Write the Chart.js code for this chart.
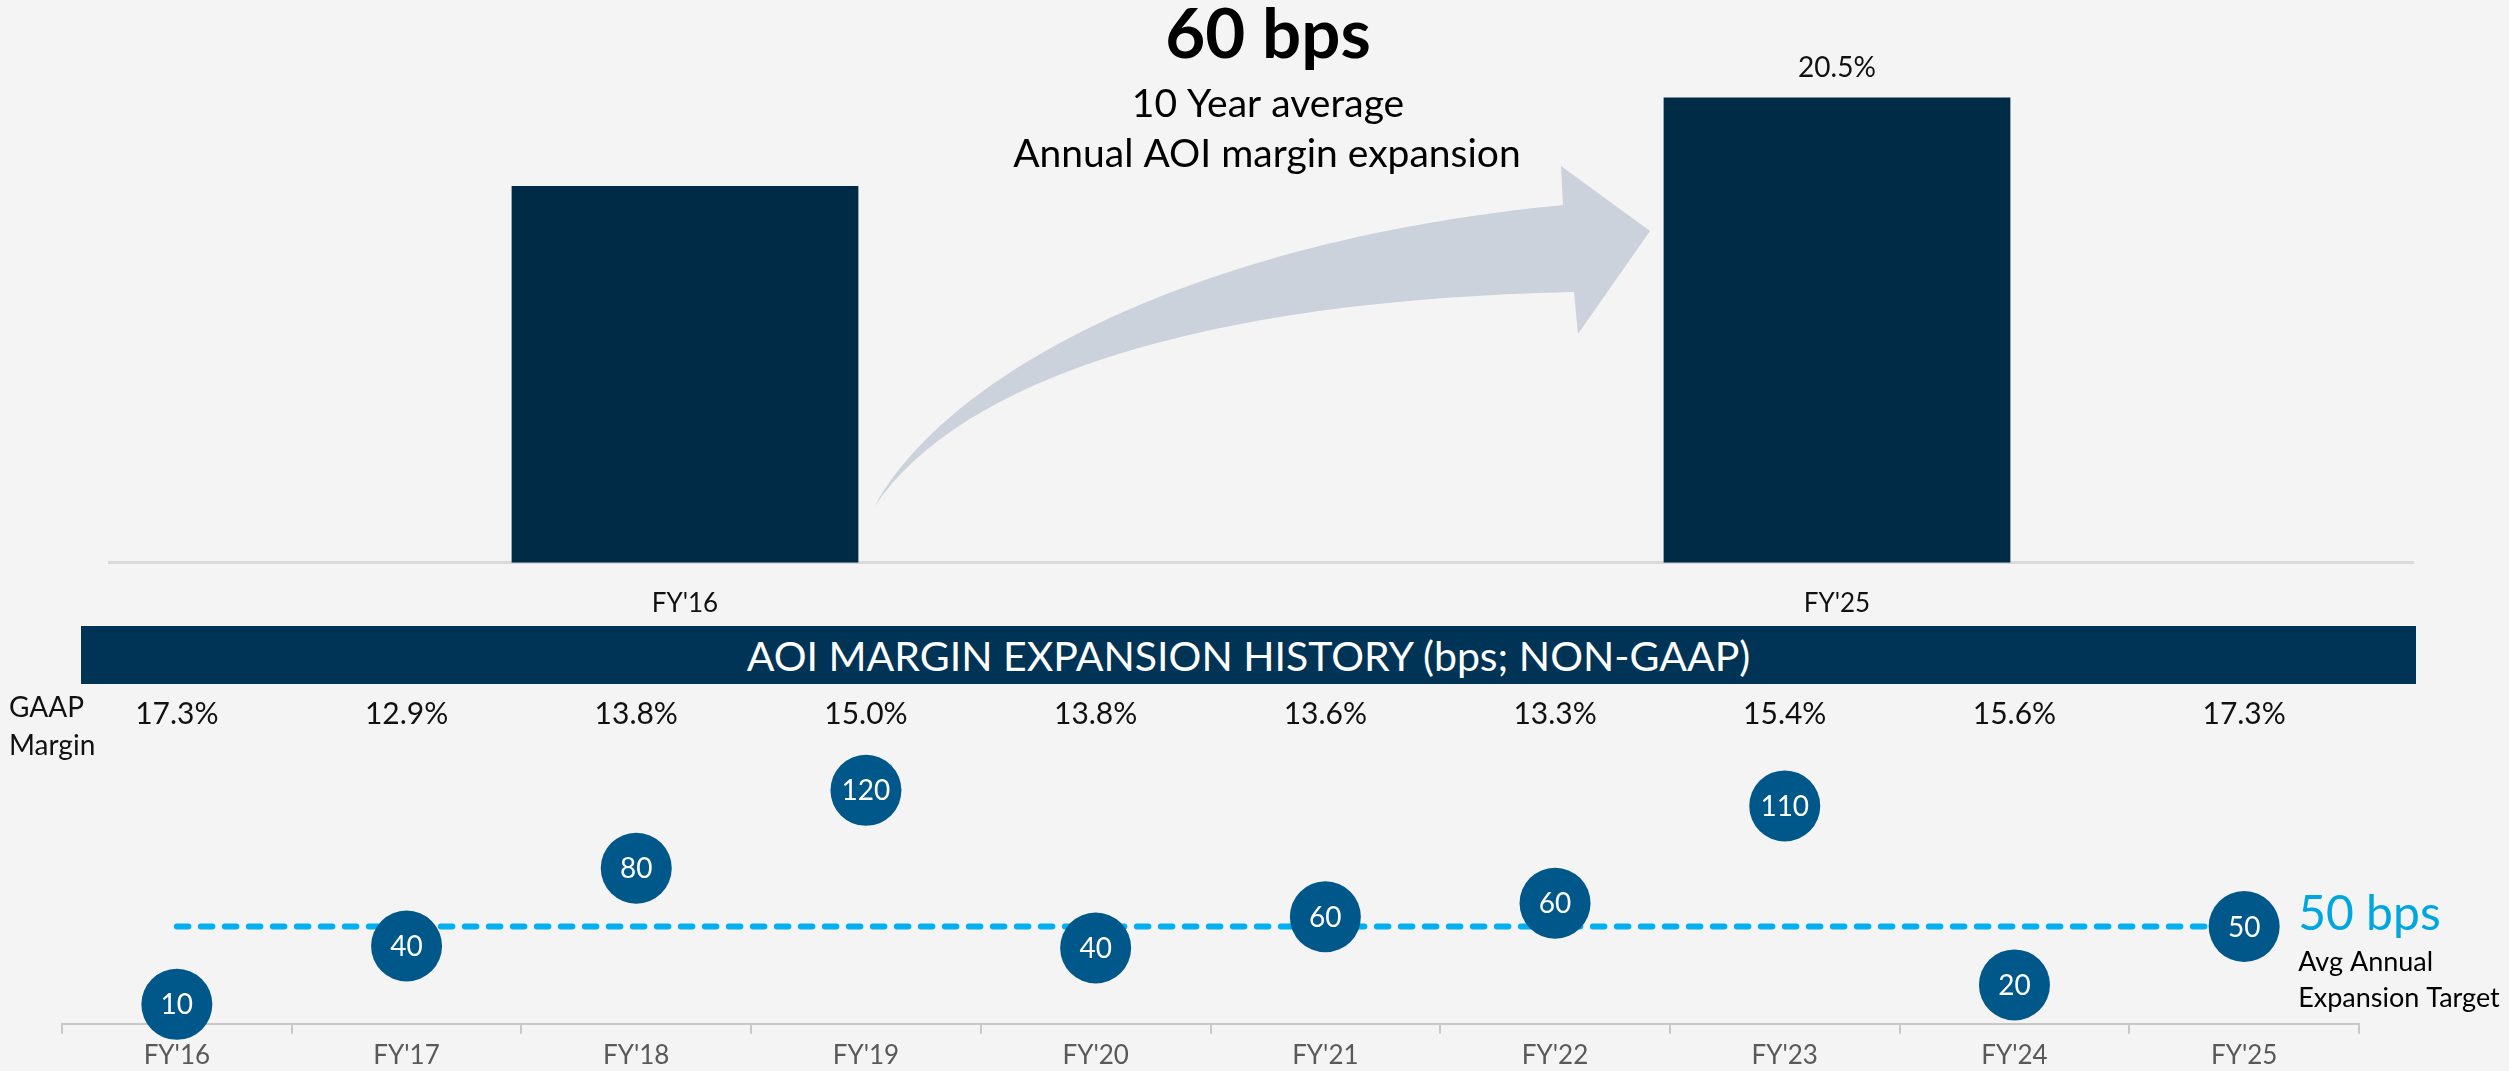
<!DOCTYPE html>
<html>
<head>
<meta charset="utf-8">
<script src="https://cdn.jsdelivr.net/npm/chart.js@4.4.1/dist/chart.umd.min.js"></script>
<style>
  html, body { margin: 0; padding: 0; background: #F4F4F4; }
  body { width: 2509px; height: 1071px; position: relative; overflow: hidden; font-family: Lato, sans-serif; }
  #top { position: absolute; left: 0; top: 0; }
  #banner { position: absolute; left: 81px; top: 626px; width: 2335px; height: 58px; background: #003456;
            color: #fff; font-size: 41px; display: flex; align-items: center; justify-content: center; }
  #bottom { position: absolute; left: 0; top: 684px; }
</style>
</head>
<body>
<canvas id="top" width="2509" height="644"></canvas>
<div id="banner">AOI MARGIN EXPANSION HISTORY (bps; NON-GAAP)</div>
<canvas id="bottom" width="2509" height="393"></canvas>
<script>
// top: AOI margin FY'16 vs FY'25
const barYears = ["FY'16", "FY'25"];
const aoiMargin = [16.6, 20.5];
const aoiMarginLabels = ['', '20.5%'];

// bottom: yearly margin expansion (bps)
const years = ["FY'16", "FY'17", "FY'18", "FY'19", "FY'20", "FY'21", "FY'22", "FY'23", "FY'24", "FY'25"];
const bpsValues = [10, 40, 80, 120, 39, 55, 62, 112, 20, 50];
const bpsLabels = ['10', '40', '80', '120', '40', '60', '60', '110', '20', '50'];
const gaapMargin = ['17.3%', '12.9%', '13.8%', '15.0%', '13.8%', '13.6%', '13.3%', '15.4%', '15.6%', '17.3%'];
const targetBps = 50;

Chart.defaults.font.family = 'Lato, sans-serif';

const topDecor = {
  id: 'topDecor',
  beforeDatasetsDraw(chart) {
    const ctx = chart.ctx;
    // curved arrow
    ctx.save();
    ctx.fillStyle = '#CBD2DC';
    ctx.beginPath();
    ctx.moveTo(875, 506);
    ctx.bezierCurveTo(950, 370, 1200, 240, 1563, 205);
    ctx.lineTo(1561, 166);
    ctx.lineTo(1650, 231);
    ctx.lineTo(1578, 334);
    ctx.lineTo(1574, 292);
    ctx.bezierCurveTo(1200, 300, 960, 380, 875, 506);
    ctx.closePath();
    ctx.fill();
    ctx.restore();
  },
  afterDatasetsDraw(chart) {
    const ctx = chart.ctx;
    ctx.save();
    ctx.textAlign = 'center';
    ctx.textBaseline = 'alphabetic';
    ctx.fillStyle = '#000';
    ctx.font = 'bold 69px Lato';
    ctx.fillText('60 bps', 1268, 58);
    ctx.font = '39px Lato';
    ctx.fillText('10 Year average', 1268, 117);
    ctx.fillText('Annual AOI margin expansion', 1267, 167);
    // value labels above bars
    const meta = chart.getDatasetMeta(0);
    ctx.font = '28px Lato';
    ctx.fillStyle = '#111';
    meta.data.forEach((bar, i) => {
      if (aoiMarginLabels[i]) ctx.fillText(aoiMarginLabels[i], bar.x, bar.y - 20);
    });
    ctx.restore();
  }
};

new Chart(document.getElementById('top'), {
  type: 'bar',
  data: {
    labels: barYears,
    datasets: [{
      data: aoiMargin,
      backgroundColor: '#002B47',
      barPercentage: 0.301,
      categoryPercentage: 1
    }]
  },
  options: {
    responsive: false,
    animation: false,
    layout: { padding: { left: 109, right: 96, top: 18, bottom: 0 } },
    plugins: { legend: { display: false }, tooltip: { enabled: false } },
    scales: {
      x: {
        grid: { display: false, drawTicks: false },
        border: { display: true, color: '#DADADA', width: 3 },
        ticks: { padding: 25, color: '#111', font: { size: 26 } }
      },
      y: { display: false, min: 0, max: 24 }
    }
  },
  plugins: [topDecor]
});

const bottomDecor = {
  id: 'bottomDecor',
  afterDatasetsDraw(chart) {
    const ctx = chart.ctx;
    const meta = chart.getDatasetMeta(0);
    ctx.save();
    ctx.textAlign = 'center';
    ctx.textBaseline = 'middle';
    ctx.fillStyle = '#fff';
    ctx.font = '28px Lato';
    meta.data.forEach((pt, i) => ctx.fillText(bpsLabels[i], pt.x, pt.y + 1));

    // target annotation
    const xs = chart.scales.x, ys = chart.scales.y;
    const tx = xs.getPixelForValue(years.length - 1) + 54;
    const ty = ys.getPixelForValue(targetBps);
    ctx.textAlign = 'left';
    ctx.textBaseline = 'alphabetic';
    ctx.fillStyle = '#00A6E0';
    ctx.font = '48px Lato';
    ctx.fillText(targetBps + ' bps', tx, ty + 3);
    ctx.fillStyle = '#000';
    ctx.font = '27px Lato';
    ctx.fillText('Avg Annual', tx, ty + 44);
    ctx.fillText('Expansion Target', tx, ty + 80);

    // row header
    ctx.fillStyle = '#111';
    ctx.font = '28px Lato';
    ctx.fillText('GAAP', 9, 33);
    ctx.fillText('Margin', 9, 71);
    ctx.restore();
  }
};

new Chart(document.getElementById('bottom'), {
  type: 'line',
  data: {
    labels: years,
    datasets: [
      {
        data: bpsValues,
        showLine: false,
        pointRadius: 35.5,
        pointHoverRadius: 35.5,
        pointBackgroundColor: '#00578A',
        pointBorderWidth: 0,
        clip: false
      },
      {
        data: years.map(() => targetBps),
        borderColor: '#00B0F0',
        borderWidth: 6,
        borderDash: [11.5, 12.5],
        borderCapStyle: 'round',
        pointRadius: 0,
        fill: false,
        clip: false
      }
    ]
  },
  options: {
    responsive: false,
    animation: false,
    layout: { padding: { left: 62, right: 150, top: 12, bottom: 0 } },
    plugins: { legend: { display: false }, tooltip: { enabled: false } },
    scales: {
      x: {
        offset: true,
        grid: { offset: true, drawOnChartArea: false, drawTicks: true, tickLength: 10, color: '#C8C8C8', lineWidth: 2 },
        border: { display: true, color: '#C8C8C8', width: 2 },
        ticks: { padding: 6, color: '#595959', font: { size: 26 }, maxRotation: 0, autoSkip: false }
      },
      x2: {
        type: 'category',
        position: 'top',
        offset: true,
        labels: gaapMargin,
        grid: { display: false, drawTicks: false },
        border: { display: false },
        ticks: { padding: 0, color: '#111', font: { size: 30 }, maxRotation: 0, autoSkip: false }
      },
      y: { display: false, min: 0, max: 150 }
    }
  },
  plugins: [bottomDecor]
});
</script>
</body>
</html>
